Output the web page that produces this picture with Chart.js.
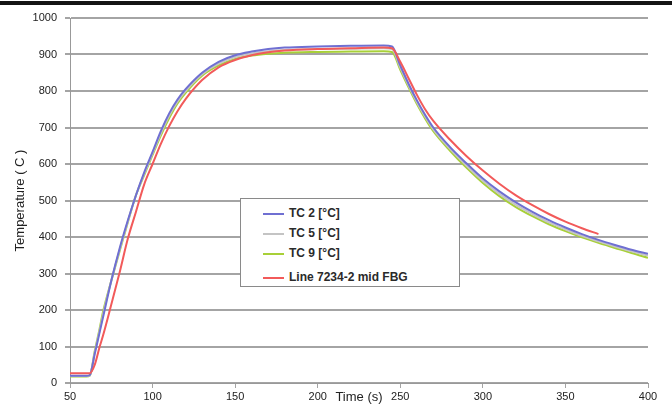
<!DOCTYPE html>
<html>
<head>
<meta charset="utf-8">
<script src="https://cdn.jsdelivr.net/npm/chart.js@4/dist/chart.umd.min.js"></script>
<style>
  html, body { margin: 0; padding: 0; background: #fff; }
  #wrap { position: relative; width: 672px; height: 411px; overflow: hidden; }
  #topbar { position: absolute; left: 0; top: 1px; width: 672px; height: 4px; background: #141414; }
  #legend {
    position: absolute; left: 240px; top: 198px; width: 218px; height: 87px;
    background: #fff; border: 1px solid #8a8a8a;
    font-family: "Liberation Sans", Arial, sans-serif; font-size: 12px; font-weight: bold; color: #2a2a2a;
  }
  .row { position: absolute; left: 22px; height: 14px; line-height: 14px; white-space: nowrap; }
  .row span.sw { display: inline-block; width: 21px; height: 2px; vertical-align: middle; margin-right: 5px; }
</style>
</head>
<body>
<div id="wrap">
  <canvas id="chart" width="672" height="411"></canvas>
  <div id="topbar"></div>
  <div id="legend"></div>
</div>
<script>
const seriesNames = ['TC 2 [°C]', 'TC 5 [°C]', 'TC 9 [°C]', 'Line 7234-2 mid FBG'];
const seriesColors = ['#6f6fd2', '#c4c4c4', '#a8d038', '#f25a5a'];

const times = [50, 60, 62, 65, 68, 70, 75, 80, 85, 90, 95, 100, 105, 110, 115, 120, 130, 140, 150, 160, 170, 180,
  200, 220, 240, 245, 250, 255, 260, 265, 270, 280, 290, 300, 310, 320, 330, 340, 350, 360, 370, 380, 390, 400];

const tc2 = [20, 20, 22, 80, 140, 180, 280, 368, 445, 515, 578, 633, 690, 738, 776, 805, 850, 880, 898, 908, 915, 919,
  922, 924, 925, 922, 870, 820, 775, 735, 700, 647, 602, 560, 525, 495, 469, 446, 426, 408, 392, 378, 365, 354];

const tc5 = [19, 19, 21, 85, 145, 188, 280, 364, 442, 515, 574, 629, 684, 732, 771, 800, 846, 875, 893, 903, 909, 912,
  915, 916, 917, 915, 864, 815, 770, 730, 695, 642, 596, 554, 518, 488, 463, 440, 421, 403, 388, 374, 361, 349];

const tc9 = [18, 18, 20, 88, 150, 195, 280, 360, 440, 515, 570, 625, 678, 725, 765, 795, 842, 870, 888, 897, 902, 905,
  907, 908, 909, 907, 858, 810, 765, 725, 690, 637, 590, 548, 512, 482, 457, 435, 416, 399, 384, 370, 356, 343];

const fbg = [27, 27, 27, 50, 100, 130, 215, 302, 395, 470, 545, 600, 655, 703, 744, 778, 830, 865, 885, 898, 906, 911,
  915, 917, 919, 917, 880, 835, 790, 750, 718, 667, 622, 582, 546, 514, 487, 463, 442, 424, 408, null, null, null];

const allSeries = [tc2, tc5, tc9, fbg];

function toPoints(values) {
  return times.map((t, i) => ({ x: t, y: values[i] }));
}

// legend box drawn as html over the plot
const legend = document.getElementById('legend');
const rowTops = [7, 27, 47, 71];
seriesNames.forEach((name, i) => {
  const row = document.createElement('div');
  row.className = 'row';
  row.style.top = rowTops[i] + 'px';
  row.innerHTML = '<span class="sw" style="background:' + seriesColors[i] + '"></span>' + name;
  legend.appendChild(row);
});

const fontFamily = '"Liberation Sans", Arial, sans-serif';
const tickFont = { family: fontFamily, size: 11 };
const titleFont = { family: fontFamily, size: 13 };
const gridColor = '#a4a4a4';

new Chart(document.getElementById('chart'), {
  type: 'line',
  data: {
    datasets: allSeries.map((values, i) => ({
      label: seriesNames[i],
      data: toPoints(values),
      borderColor: seriesColors[i],
      borderWidth: 2,
      pointRadius: 0,
      cubicInterpolationMode: 'monotone',
      spanGaps: false,
      order: i === 3 ? 0 : i + 1
    }))
  },
  options: {
    responsive: false,
    animation: false,
    layout: { padding: { left: 0, right: 24, top: 18, bottom: 0 } },
    plugins: { legend: { display: false }, tooltip: { enabled: false } },
    scales: {
      x: {
        type: 'linear',
        min: 50,
        max: 400,
        ticks: { stepSize: 50, color: '#222', font: tickFont, padding: 2, maxRotation: 0, callback: v => String(v) },
        grid: { display: true, drawOnChartArea: false, color: gridColor, tickLength: 5 },
        border: { color: '#999', width: 1 },
        title: { display: true, text: 'Time (s)', color: '#222', font: titleFont, padding: { top: 0, bottom: 6 } },
        afterFit: scale => { scale.height = 28; }
      },
      y: {
        min: 0,
        max: 1000,
        ticks: { stepSize: 100, color: '#222', font: tickFont, padding: 8, callback: v => String(v) },
        grid: { color: gridColor, lineWidth: 2, tickLength: 5 },
        border: { color: '#999', width: 1 },
        title: { display: true, text: 'Temperature ( C )', color: '#222', font: titleFont, padding: { top: 13, bottom: 0 } },
        afterFit: scale => { scale.width = 70; }
      }
    }
  }
});
</script>
</body>
</html>
